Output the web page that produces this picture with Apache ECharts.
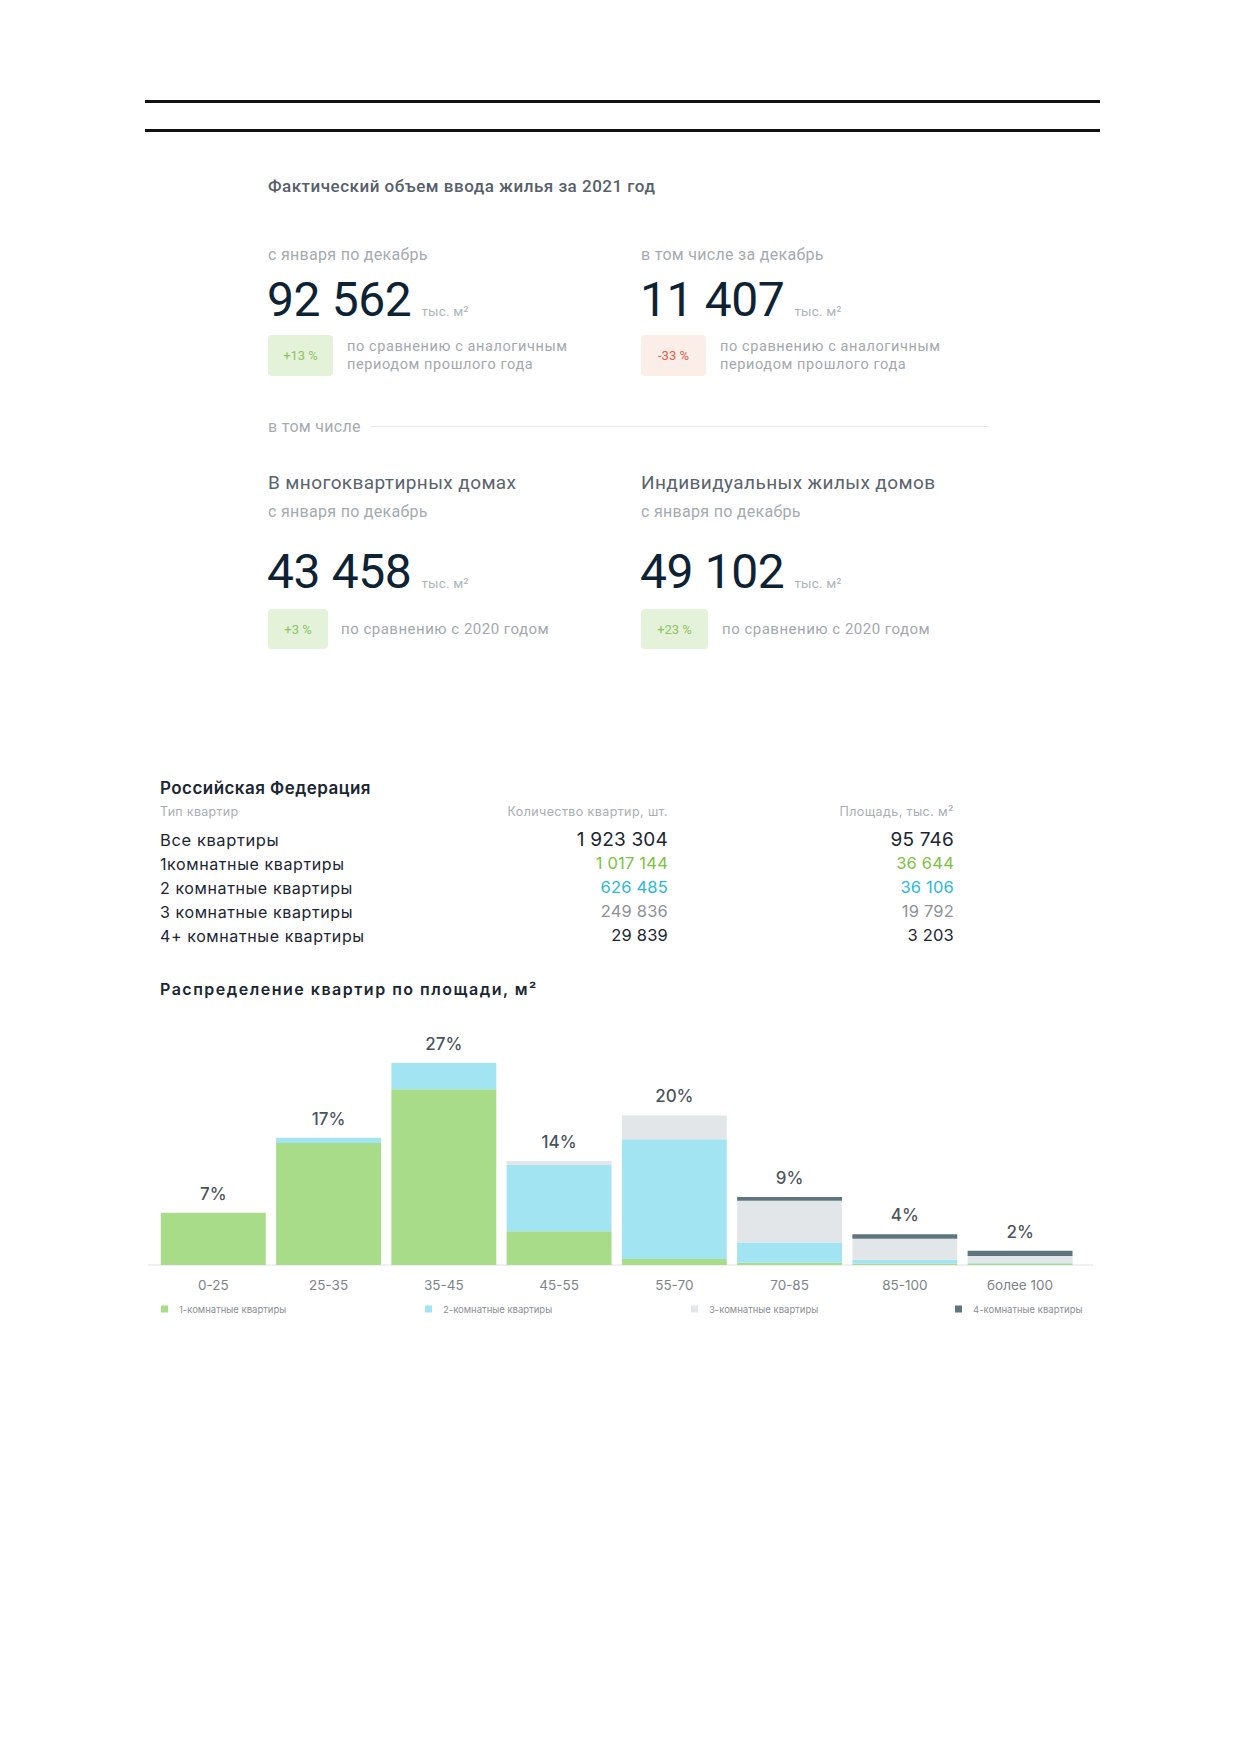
<!DOCTYPE html>
<html lang="ru">
<head>
<meta charset="utf-8">
<title>Ввод жилья 2021</title>
<script src="https://cdn.jsdelivr.net/npm/echarts@6/dist/echarts.min.js"></script>
<style>
  html, body { margin: 0; padding: 0; background: #fff; }
  body { width: 1237px; height: 1754px; position: relative; overflow: hidden; font-family: Roboto, "Noto Sans", sans-serif; }
  .abs { position: absolute; white-space: nowrap; }
  .rule { position: absolute; left: 145px; width: 955px; height: 3px; background: #111; }
  .title { font-size: 17px; font-weight: 500; color: #56606a; letter-spacing: 0.5px; }
  .sub { font-size: 16px; color: #a5abb0; letter-spacing: 0.3px; }
  .big { font-size: 48px; color: #0d2233; letter-spacing: -0.4px; line-height: 48px; }
  .unit { font-size: 13.5px; color: #b0b5b9; letter-spacing: 0.2px; margin-left: 10px; }
  .badge { position: absolute; border-radius: 4px; font-size: 13px; display: flex; align-items: center; justify-content: center; }
  .badge.up { background: #e5f2da; color: #8dc463; }
  .badge.down { background: #fbeee9; color: #e85c4a; }
  .cmp { font-size: 14.5px; color: #a3a8ad; line-height: 18px; letter-spacing: 0.6px; }
  .head2 { font-size: 19px; color: #5a646c; letter-spacing: 0.4px; }
  .tbl { font-family: Inter, Roboto, sans-serif; }
  #chart { position: absolute; left: 0; top: 1000px; width: 1237px; height: 350px; }
</style>
</head>
<body>
<div class="rule" style="top:100px"></div>
<div class="rule" style="top:129px"></div>
<div id="topBlock"></div>
<div id="table"></div>
<div id="chart"></div>
<script>
// ---- data ----
var pageTitle = 'Фактический объем ввода жилья за 2021 год';
var kpiLabels = ['с января по декабрь', 'в том числе за декабрь'];
var kpiValues = ['92 562', '11 407'];
var kpiChange = ['+13 %', '-33 %'];
var kpiNote = ['по сравнению с аналогичным', 'периодом прошлого года'];

var partHeads = ['В многоквартирных домах', 'Индивидуальных жилых домов'];
var partValues = ['43 458', '49 102'];
var partChange = ['+3 %', '+23 %'];
var partNote = 'по сравнению с 2020 годом';

var regionName = 'Российская Федерация';
var tableHeads = ['Тип квартир', 'Количество квартир, шт.', 'Площадь, тыс. м²'];
var rowNames = ['Все квартиры', '1комнатные квартиры', '2 комнатные квартиры', '3 комнатные квартиры', '4+ комнатные квартиры'];
var rowCounts = ['1 923 304', '1 017 144', '626 485', '249 836', '29 839'];
var rowAreas = ['95 746', '36 644', '36 106', '19 792', '3 203'];

var chartTitle = 'Распределение квартир по площади, м²';
var areaBins = ['0-25', '25-35', '35-45', '45-55', '55-70', '70-85', '85-100', 'более 100'];
var seriesNames = ['1-комнатные квартиры', '2-комнатные квартиры', '3-комнатные квартиры', '4-комнатные квартиры'];
var room1 = [7.0, 16.3, 23.5, 4.5, 0.8, 0.3, 0.2, 0.2];
var room2 = [0, 0.7, 3.5, 8.9, 16.0, 2.7, 0.5, 0.1];
var room3 = [0, 0, 0, 0.5, 3.2, 5.6, 2.8, 0.9];
var room4 = [0, 0, 0, 0, 0, 0.5, 0.6, 0.7];
var binShares = [7, 17, 27, 14, 20, 9, 4, 2];

// ---- top block (html text) ----
function el(parent, cls, style, html) {
  var d = document.createElement('div');
  d.className = cls;
  d.setAttribute('style', style);
  d.innerHTML = html;
  parent.appendChild(d);
  return d;
}
var topBox = document.getElementById('topBlock');
var colX = [268, 641];
el(topBox, 'abs title', 'left:268px;top:176px;', pageTitle);
for (var i = 0; i < 2; i++) {
  el(topBox, 'abs sub', 'left:' + colX[i] + 'px;top:245px;', kpiLabels[i]);
  el(topBox, 'abs big', 'left:' + (colX[i] - 1) + 'px;top:276px;', kpiValues[i] + '<span class="unit">тыс. м²</span>');
  el(topBox, 'badge ' + (i === 0 ? 'up' : 'down'), 'left:' + colX[i] + 'px;top:335px;width:65px;height:41px;', kpiChange[i]);
  el(topBox, 'abs cmp', 'left:' + (colX[i] + 79) + 'px;top:338px;', kpiNote[0] + '<br>' + kpiNote[1]);

  el(topBox, 'abs head2', 'left:' + colX[i] + 'px;top:471px;', partHeads[i]);
  el(topBox, 'abs sub', 'left:' + colX[i] + 'px;top:502px;', kpiLabels[0]);
  el(topBox, 'abs big', 'left:' + (colX[i] - 1) + 'px;top:548px;', partValues[i] + '<span class="unit">тыс. м²</span>');
  el(topBox, 'badge up', 'left:' + colX[i] + 'px;top:609px;width:' + (i === 0 ? 60 : 67) + 'px;height:40px;', partChange[i]);
  el(topBox, 'abs cmp', 'left:' + (i === 0 ? 341 : 722) + 'px;top:620px;font-size:15px;letter-spacing:0.5px;', partNote);
}
el(topBox, 'abs sub', 'left:268px;top:417px;', 'в том числе');
el(topBox, 'abs', 'left:370px;top:426px;width:618px;height:1px;background:#e6e8ea;', '');

// ---- table block ----
var tb = document.getElementById('table');
el(tb, 'abs tbl', 'left:160px;top:778px;font-size:17px;font-weight:600;color:#1b2631;letter-spacing:0.45px;', regionName);
el(tb, 'abs tbl', 'left:160px;top:804px;font-size:12.5px;color:#a9aeb2;letter-spacing:0.3px;', tableHeads[0]);
el(tb, 'abs tbl', 'right:' + (1237 - 668) + 'px;top:804px;font-size:12.5px;color:#a9aeb2;letter-spacing:0.4px;', tableHeads[1]);
el(tb, 'abs tbl', 'right:' + (1237 - 954) + 'px;top:804px;font-size:12.5px;color:#a9aeb2;letter-spacing:0.4px;', tableHeads[2]);
var rowY = [840, 863.5, 887.5, 911.5, 935.5];
var rowColor = ['#1b2631', '#7dc242', '#29b8d8', '#8d9296', '#1b2631'];
for (var r = 0; r < rowNames.length; r++) {
  var fsName = r === 0 ? 16.5 : 16;
  var fsVal = r === 0 ? 19 : 16.5;
  el(tb, 'abs tbl', 'left:160px;top:' + (rowY[r] - fsName * 0.62) + 'px;font-size:' + fsName + 'px;color:#1b2631;letter-spacing:0.6px;', rowNames[r]);
  el(tb, 'abs tbl', 'right:' + (1237 - 668) + 'px;top:' + (rowY[r] - fsVal * 0.62) + 'px;font-size:' + fsVal + 'px;color:' + rowColor[r] + ';letter-spacing:0.2px;', rowCounts[r]);
  el(tb, 'abs tbl', 'right:' + (1237 - 954) + 'px;top:' + (rowY[r] - fsVal * 0.62) + 'px;font-size:' + fsVal + 'px;color:' + rowColor[r] + ';letter-spacing:0.2px;', rowAreas[r]);
}
el(tb, 'abs tbl', 'left:160px;top:979px;font-size:16px;font-weight:600;color:#1b2631;letter-spacing:1.5px;', chartTitle);

// ---- bar chart ----
var myChart = echarts.init(document.getElementById('chart'), null, { renderer: 'svg' });

var colors = ['#a8dc88', '#a3e4f2', '#e2e6e8', '#5f757d'];
var roomSeries = [room1, room2, room3, room4];
var stackTop = areaBins.map(function (b, i) {
  return room1[i] + room2[i] + room3[i] + room4[i];
});
var legendLeft = [161, 425, 691, 955];

var series = roomSeries.map(function (vals, k) {
  return {
    name: seriesNames[k],
    type: 'bar',
    stack: 'rooms',
    barCategoryGap: '9%',
    itemStyle: { color: colors[k] },
    data: vals
  };
});
series.push({
  name: 'share',
  type: 'scatter',
  symbolSize: 1,
  itemStyle: { color: 'rgba(0,0,0,0)' },
  label: {
    show: true,
    position: 'top',
    distance: 10,
    fontFamily: 'Inter',
    fontSize: 17,
    fontWeight: 500,
    color: '#16252f',
    formatter: function (p) { return binShares[p.dataIndex] + '%'; }
  },
  data: stackTop,
  z: 5
});

var option = {
  animation: false,
  grid: { left: 155.7, right: 159.3, top: 40.6, bottom: 85 },
  xAxis: {
    type: 'category',
    data: areaBins,
    axisLine: { show: false },
    axisTick: { show: false },
    axisLabel: { margin: 13, fontFamily: 'Inter', fontSize: 13.5, color: '#7d8388' }
  },
  yAxis: {
    type: 'value',
    min: 0,
    max: 30,
    show: false,
    splitLine: { show: false }
  },
  legend: seriesNames.map(function (n, k) {
    return {
      data: [n],
      left: legendLeft[k],
      top: 304,
      padding: 0,
      icon: 'rect',
      itemWidth: 7,
      itemHeight: 7,
      textStyle: { fontFamily: 'Inter', fontSize: 9.5, color: '#8a8f93', padding: [0, 0, 0, 6] },
      selectedMode: false
    };
  }),
  graphic: [{
    type: 'line',
    z: -1,
    shape: { x1: 148, y1: 265, x2: 1093, y2: 265 },
    style: { stroke: '#eef0f2', lineWidth: 2 }
  }],
  series: series
};

myChart.setOption(option);
</script>
</body>
</html>
